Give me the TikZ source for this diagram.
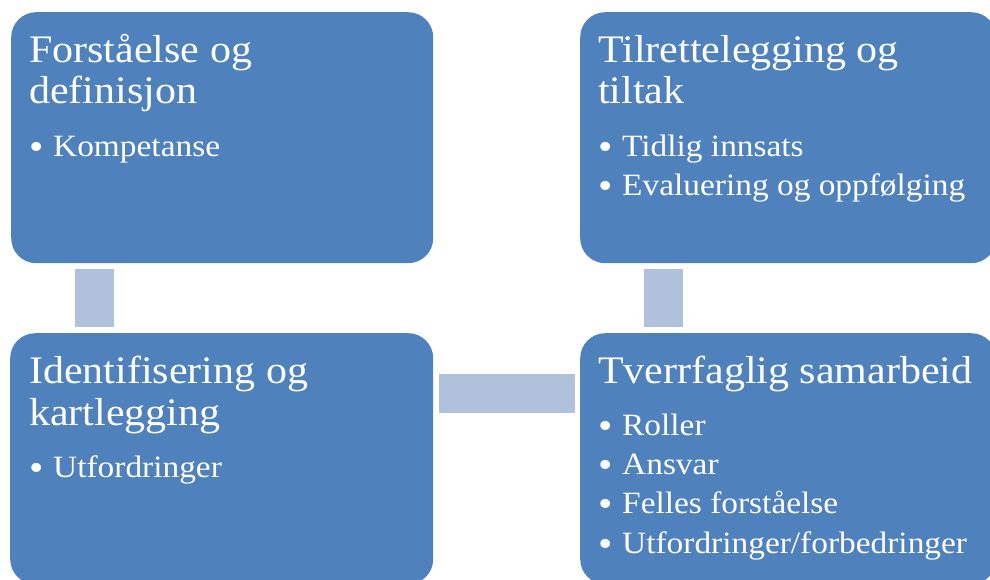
\documentclass[tikz,border=0pt]{standalone}
\usepackage{fontspec}
\setmainfont{Liberation Serif}[FakeStretch=1.077]
\usetikzlibrary{calc}
\definecolor{boxblue}{HTML}{4F81BD}
\definecolor{barblue}{RGB}{176,193,220}
\tikzset{
  box/.style={fill=boxblue, rounded corners=25pt, inner sep=0pt, anchor=north west,
              minimum width=416pt, minimum height=251pt},
  head/.style={text=white, font=\fontsize{39}{41}\selectfont, anchor=base west, inner sep=0pt},
  item/.style={text=white, font=\fontsize{31}{39}\selectfont, anchor=base west, inner sep=0pt},
  bar/.style={draw=barblue, line width=39pt}
}
\newcommand{\bul}[1]{\makebox[24pt][l]{\raisebox{-3.5pt}{\fontsize{38}{38}\selectfont •}}#1}
\begin{document}
\begin{tikzpicture}[x=1pt, y=-1pt]
  \useasboundingbox (0,0) rectangle (990,579);

  % the four process boxes
  \node[box, minimum width=422pt] (tl) at (11,12) {};
  \node[box] (tr) at (580,12) {};
  \node[box, minimum width=423pt] (bl) at (10,333) {};
  \node[box] (br) at (580,333) {};

  % connecting bars
  \draw[bar] ($(tl.south west)+(83.5,6)$) -- ($(bl.north west)+(84.5,-6)$);
  \draw[bar] ($(tr.south west)+(83.5,6)$) -- ($(br.north west)+(83.5,-6)$);
  \draw[bar] ($(bl.north east)+(6,60.5)$) -- ($(br.north west)+(-5,60.5)$);

  % top left
  \node[head] (tl-h1) at (29,62) {Forståelse og};
  \node[head] (tl-h2) at (29,103) {definisjon};
  \node[item] (tl-b1) at (29,156) {\bul{Kompetanse}};

  % top right
  \node[head] (tr-h1) at (598,62) {Tilrettelegging og};
  \node[head] (tr-h2) at (598,103) {tiltak};
  \node[item] (tr-b1) at (598,156) {\bul{Tidlig innsats}};
  \node[item] (tr-b2) at (598,195) {\bul{Evaluering og oppfølging}};

  % bottom left
  \node[head] (bl-h1) at (29,383) {Identifisering og};
  \node[head] (bl-h2) at (29,425) {kartlegging};
  \node[item] (bl-b1) at (29,477) {\bul{Utfordringer}};

  % bottom right
  \node[head] (br-h1) at (598,383) {Tverrfaglig samarbeid};
  \node[item] (br-b1) at (598,435) {\bul{Roller}};
  \node[item] (br-b2) at (598,474) {\bul{Ansvar}};
  \node[item] (br-b3) at (598,513) {\bul{Felles forståelse}};
  \node[item] (br-b4) at (598,553) {\bul{Utfordringer/forbedringer}};
\end{tikzpicture}
\end{document}
